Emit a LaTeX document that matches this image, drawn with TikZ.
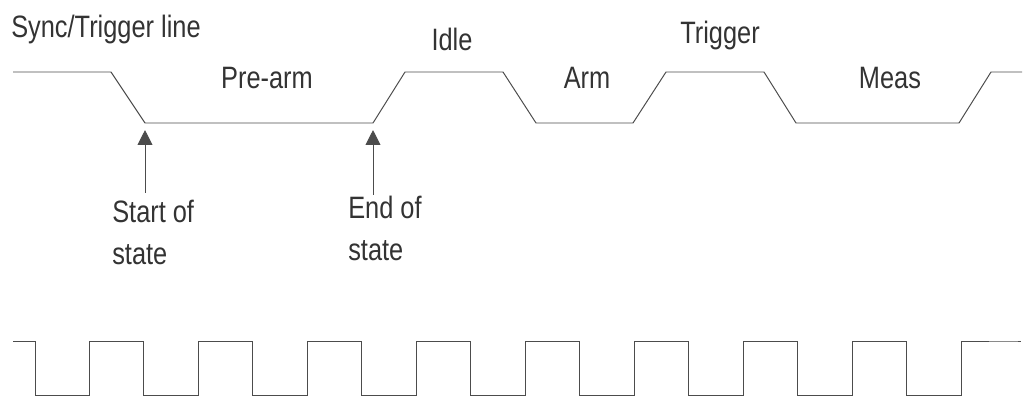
\documentclass[tikz,border=0pt]{standalone}
\usepackage{fontspec}
\setmainfont[FakeStretch=0.82]{Liberation Sans}
\usetikzlibrary{arrows.meta}

\tikzset{
	wave/.style={draw=black!70,line width=0.7pt,line join=miter},
	lbl/.style={inner sep=0pt,text=black!80,font=\fontsize{22}{29.8}\selectfont},
	marker/.style={draw=black!70,line width=0.7pt,-{Triangle[width=10.5pt,length=10.5pt]},shorten >=5pt},
}

\begin{document}
\begin{tikzpicture}[x=0.025cm,y=-0.025cm]
	\useasboundingbox (0,0) rectangle (1025,396);
	% sync/trigger line
	\draw[wave] (13,72) -- (111,72) -- (145,123) coordinate (s0) -- (373,123) coordinate (s1) -- (405,72) -- (503,72) -- (536,123) -- (633,123) -- (666,72) -- (764,72) -- (796,123) -- (959,123) -- (991,72) -- (1022,72);
	
	\node[lbl,anchor=base west] (sync) at (11,37) {Sync/Trigger line};
	\node[lbl,anchor=base] (prearm) at (267,88) {Pre-arm};
	\node[lbl,anchor=base] (idle) at (452,50) {Idle};
	\node[lbl,anchor=base] (arm) at (587,88) {Arm};
	\node[lbl,anchor=base] (trig) at (720,43) {Trigger};
	\node[lbl,anchor=base] (meas) at (890,88) {Meas};
	
	% state markers
	\node[lbl,anchor=north west,align=left] (start) at (112,200) {Start of\\state};
	\node[lbl,anchor=north west,align=left] (end) at (348,196) {End of\\state};
	\draw[marker] ([yshift=5pt]start.north -| s0) -- (s0);
	\draw[marker] ([yshift=1pt]end.north -| s1) -- (s1);
	
	% clock
	\draw[wave] (13,341) -- (35,341) \foreach \k in {0,...,8} {
		-- ({35+2*\k*54.47},395) -- ({35+(2*\k+1)*54.47},395)
		-- ({35+(2*\k+1)*54.47},341) -- ({35+(2*\k+2)*54.47},341)} -- (1021,341);
\end{tikzpicture}
\end{document}
